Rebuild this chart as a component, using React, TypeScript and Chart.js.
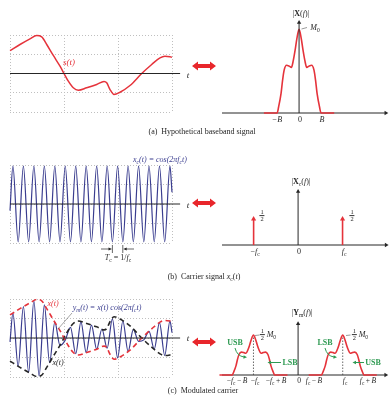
import React, { useEffect, useRef } from 'react';
import { Chart, registerables } from 'chart.js';

Chart.register(...registerables);

// ---------------- data ----------------
// (a) baseband signal s(t): time in grid columns (0..3), amplitude in half-box units
const baseTime = [0, 0.185, 0.37, 0.494, 0.587, 0.68, 0.802, 0.926, 1.0, 1.08, 1.172, 1.265, 1.42, 1.606, 1.741, 1.791, 1.852, 1.926, 2.037, 2.222, 2.439, 2.624, 2.778, 2.87, 2.963, 3.0];
const baseSignal = [0.592, 0.753, 0.901, 0.987, 0.953, 0.753, 0.468, 0.19, 0, -0.2, -0.371, -0.434, -0.372, -0.286, -0.208, -0.242, -0.416, -0.545, -0.486, -0.312, 0, 0.234, 0.408, 0.45, 0.434, 0.42];

// (b) carrier: instants of its extrema (plus the two box edges) and values there
const carrierTime = [0, 0.054, 0.151, 0.248, 0.345, 0.442, 0.539, 0.636, 0.733, 0.83, 0.926, 1.023, 1.12, 1.217, 1.314, 1.411, 1.508, 1.605, 1.702, 1.799, 1.896, 1.993, 2.09, 2.187, 2.284, 2.381, 2.478, 2.574, 2.671, 2.768, 2.865, 2.962, 3.0];
const carrierValue = [-0.17, 0.97, -0.97, 0.97, -0.97, 0.97, -0.97, 0.97, -0.97, 0.97, -0.97, 0.97, -0.97, 0.97, -0.97, 0.97, -0.97, 0.97, -0.97, 0.97, -0.97, 0.97, -0.97, 0.97, -0.97, 0.97, -0.97, 0.97, -0.97, 0.97, -0.97, 0.97, 0.3];

// (c) modulated carrier y_m(t): values at the same instants
const modulatedValue = [-0.1, 0.636, -0.722, 0.803, -0.881, 0.951, -0.971, 0.849, -0.631, 0.405, -0.19, -0.055, 0.275, -0.403, 0.416, -0.374, 0.33, -0.286, 0.231, -0.262, 0.491, -0.509, 0.436, -0.345, 0.223, -0.086, -0.047, 0.171, -0.286, 0.395, -0.447, 0.434, 0.14];

// (a) spectrum |X(f)|, frequency in units of B, magnitude in units of M0
const specFreq = [-1.6, -1.1, -1.0, -0.93, -0.82, -0.75, -0.68, -0.57, -0.45, -0.35, -0.26, -0.18, -0.1, 0, 0.1, 0.18, 0.26, 0.35, 0.45, 0.57, 0.68, 0.75, 0.82, 0.93, 1.0, 1.1, 1.6];
const specMag = [0, 0, 0, 0.075, 0.235, 0.393, 0.512, 0.571, 0.56, 0.544, 0.631, 0.75, 0.889, 1.0, 0.889, 0.75, 0.631, 0.544, 0.56, 0.571, 0.512, 0.393, 0.235, 0.075, 0, 0, 0];

// (b) carrier spectrum impulses (frequency in units of fc)
const impulseFreq = [-1, 1];
const impulseHeight = [0.5, 0.5];

// (c) carrier frequency expressed in units of B, and sideband scale
const carrierFreqInB = 2.1;
const sidebandScale = 0.5;

// ---------------- styling ----------------
const RED = '#e5333b';
const BLUE = '#3a3d8f';
const INK = '#262626';
const GREEN = '#2e9a52';
const GRID = '#bfbfbf';
const SERIF = '"Liberation Serif", "DejaVu Serif", serif';

const pts = (xs: number[], ys: number[]) => xs.map((x, i) => ({ x, y: ys[i] }));

function line(points: any[], color: string, width: number, extra: any = {}) {
  return {
    type: 'line',
    data: points,
    borderColor: color,
    backgroundColor: color,
    borderWidth: width,
    pointRadius: 0,
    fill: false,
    clip: false,
    ...extra,
  };
}

function arrow(points: any[], color: string, width: number, rotation: number, r = 2.5, extra: any = {}) {
  return line(points, color, width, {
    pointRadius: points.map((_: any, i: number) => (i === points.length - 1 ? r : 0)),
    pointStyle: 'triangle',
    pointRotation: rotation,
    pointBackgroundColor: color,
    pointBorderColor: color,
    pointBorderWidth: 0,
    ...extra,
  });
}

function makeConfig(datasets: any[], x: [number, number], y: [number, number], padding: any, grid: boolean) {
  const scale = (min: number, max: number, step: number) => ({
    type: 'linear',
    min,
    max,
    display: grid,
    ticks: { display: false, stepSize: step },
    grid: { color: GRID, lineWidth: 1, drawTicks: false },
    border: { display: false, dash: [1, 2] },
  });
  return {
    type: 'line',
    data: { datasets },
    options: {
      animation: false,
      responsive: false,
      maintainAspectRatio: false,
      events: [],
      layout: { padding },
      plugins: { legend: { display: false }, tooltip: { enabled: false } },
      scales: {
        x: scale(x[0], x[1], 1),
        y: scale(y[0], y[1], 0.5),
      },
    },
  } as any;
}

function ChartCanvas({ left, top, width, height, build }: any) {
  const ref = useRef<HTMLCanvasElement>(null);
  useEffect(() => {
    const chart = new Chart(ref.current as HTMLCanvasElement, build());
    return () => chart.destroy();
  }, []);
  return (
    <canvas
      ref={ref}
      width={width}
      height={height}
      style={{ position: 'absolute', left, top, width, height }}
    />
  );
}

// ---------------- chart builders ----------------
const timeAxis = () => arrow([{ x: 0, y: 0 }, { x: 3.15, y: 0 }], INK, 1, 90, 2.5, { order: 0 });

const buildA = () =>
  makeConfig(
    [timeAxis(), line(pts(baseTime, baseSignal), RED, 1.5, { cubicInterpolationMode: 'monotone', order: 1 })],
    [0, 3], [-1, 1], { left: 10, right: 24, top: 35, bottom: 18 }, true
  );

const buildB = () =>
  makeConfig(
    [timeAxis(), line(pts(carrierTime, carrierValue), BLUE, 1.2, { cubicInterpolationMode: 'monotone', order: 1 })],
    [0, 3], [-1, 1], { left: 10, right: 24, top: 35, bottom: 22 }, true
  );

const buildC = () =>
  makeConfig(
    [
      timeAxis(),
      line(pts(baseTime, baseSignal), RED, 1.6, { cubicInterpolationMode: 'monotone', borderDash: [5, 3.5], order: 1 }),
      line(pts(baseTime, baseSignal.map((v) => -v)), INK, 1.6, { cubicInterpolationMode: 'monotone', borderDash: [5, 3.5], order: 1 }),
      line(pts(carrierTime, modulatedValue), BLUE, 1.2, { cubicInterpolationMode: 'monotone', order: 2 }),
    ],
    [0, 3], [-1, 1], { left: 10, right: 24, top: 34, bottom: 27 }, true
  );

const buildSpecA = () =>
  makeConfig(
    [
      arrow([{ x: 0, y: 0 }, { x: 0, y: 1.08 }], INK, 1, 0, 2.5, { order: 0 }),
      line(pts(specFreq, specMag), RED, 1.6, { cubicInterpolationMode: 'monotone', order: 1 }),
      arrow([{ x: -3.51, y: 0 }, { x: 3.95, y: 0 }], INK, 1, 90, 2.5, { order: 2 }),
    ],
    [-3.51, 4.05], [0, 1.111], { left: 26, right: 2, top: 20, bottom: 17 }, false
  );

const buildSpecB = () =>
  makeConfig(
    [
      arrow([{ x: 0, y: 0 }, { x: 0, y: 1.03 }], INK, 1, 0, 2.5, { order: 0 }),
      ...impulseFreq.map((f, i) =>
        arrow([{ x: f, y: 0 }, { x: f, y: impulseHeight[i] }], RED, 1.6, 0, 3, { order: 1 })
      ),
      arrow([{ x: -1.711, y: 0 }, { x: 1.98, y: 0 }], INK, 1, 90, 2.5, { order: 2 }),
    ],
    [-1.711, 2.022], [0, 1.077], { left: 26, right: 2, top: 59, bottom: 20 }, false
  );

const buildSpecC = () =>
  makeConfig(
    [
      arrow([{ x: 0, y: 0 }, { x: 0, y: 0.64 }], INK, 1, 0, 2.5, { order: 0 }),
      ...[-carrierFreqInB, carrierFreqInB].map((fc) =>
        line(
          pts(specFreq.map((f) => f + fc), specMag.map((m) => m * sidebandScale)),
          RED, 1.6, { cubicInterpolationMode: 'monotone', order: 1 }
        )
      ),
      ...[-carrierFreqInB, carrierFreqInB].map((fc) =>
        line([{ x: fc, y: 0 }, { x: fc, y: sidebandScale }], '#444', 0.8, { borderDash: [1.5, 1.5], order: 2 })
      ),
      arrow([{ x: -3.58, y: 0 }, { x: 4.12, y: 0 }], INK, 1, 90, 2.5, { order: 3 }),
    ],
    [-3.58, 4.23], [0, 0.675], { left: 26, right: 2, top: 56, bottom: 29 }, false
  );

// ---------------- text helpers ----------------
function T({ x, y, size = 8, color = INK, italic = false, bold = false, children }: any) {
  return (
    <div
      style={{
        position: 'absolute',
        left: x,
        top: y,
        transform: 'translate(-50%, -50%)',
        whiteSpace: 'nowrap',
        fontFamily: SERIF,
        fontSize: size,
        lineHeight: 1,
        color,
        fontStyle: italic ? 'italic' : 'normal',
        fontWeight: bold ? 'bold' : 'normal',
      }}
    >
      {children}
    </div>
  );
}

const Sub = ({ children }: any) => (
  <span style={{ fontSize: '0.7em', verticalAlign: '-0.3em', lineHeight: 0 }}>{children}</span>
);
const I = ({ children }: any) => <span style={{ fontStyle: 'italic' }}>{children}</span>;
const Half = () => (
  <span
    style={{
      display: 'inline-flex',
      flexDirection: 'column',
      alignItems: 'center',
      fontSize: '0.8em',
      lineHeight: 1,
      verticalAlign: 'middle',
      fontStyle: 'normal',
    }}
  >
    <span>1</span>
    <span style={{ borderTop: '0.7px solid #333', padding: '0 1px' }}>2</span>
  </span>
);

function DoubleArrow({ y }: { y: number }) {
  return (
    <polygon
      points={`192,${y} 198,${y - 4.5} 198,${y - 2} 210,${y - 2} 210,${y - 4.5} 216,${y} 210,${y + 4.5} 210,${y + 2} 198,${y + 2} 198,${y + 4.5}`}
      fill="#e8262b"
    />
  );
}

function GreenArrow({ d, tip, angle }: { d: string; tip: [number, number]; angle: number }) {
  const [tx, ty] = tip;
  return (
    <g>
      <path d={d} stroke={GREEN} strokeWidth={1} fill="none" />
      <polygon
        points={`${tx},${ty} ${tx - 3.5},${ty - 1.8} ${tx - 3.5},${ty + 1.8}`}
        fill={GREEN}
        transform={`rotate(${angle} ${tx} ${ty})`}
      />
    </g>
  );
}

export default function App() {
  return (
    <div
      style={{
        position: 'absolute',
        left: 0,
        top: 0,
        width: 392,
        height: 404,
        background: '#ffffff',
        overflow: 'hidden',
      }}
    >
      <ChartCanvas left={0} top={0} width={196} height={130} build={buildA} />
      <ChartCanvas left={0} top={130} width={196} height={135} build={buildB} />
      <ChartCanvas left={0} top={265} width={196} height={139} build={buildC} />
      <ChartCanvas left={196} top={0} width={196} height={130} build={buildSpecA} />
      <ChartCanvas left={196} top={130} width={196} height={135} build={buildSpecB} />
      <ChartCanvas left={196} top={265} width={196} height={139} build={buildSpecC} />

      <svg width={392} height={404} style={{ position: 'absolute', left: 0, top: 0, pointerEvents: 'none' }}>
        <DoubleArrow y={66} />
        <DoubleArrow y={203} />
        <DoubleArrow y={342} />
        {/* M0 leader */}
        <line x1={301.5} y1={29} x2={307} y2={27.5} stroke="#555" strokeWidth={0.6} />
        {/* 1/2 M0 leaders */}
        <line x1={255} y1={335.5} x2={259.5} y2={335} stroke="#555" strokeWidth={0.6} />
        <line x1={346} y1={335.5} x2={350.5} y2={335} stroke="#555" strokeWidth={0.6} />
        {/* Tc markers */}
        <line x1={112.4} y1={245} x2={112.4} y2={253} stroke={INK} strokeWidth={0.7} />
        <line x1={122.8} y1={245} x2={122.8} y2={253} stroke={INK} strokeWidth={0.7} />
        <line x1={101} y1={249} x2={110} y2={249} stroke={INK} strokeWidth={0.7} />
        <polygon points="112,249 108.5,247.6 108.5,250.4" fill={INK} />
        <line x1={134} y1={249} x2={125} y2={249} stroke={INK} strokeWidth={0.7} />
        <polygon points="123.2,249 126.7,247.6 126.7,250.4" fill={INK} />
        {/* y_m leader */}
        <line x1={72} y1={313} x2={58} y2={329} stroke="#666" strokeWidth={0.6} />
        {/* green sideband arrows */}
        <GreenArrow d="M235,348 Q237,356 244,357" tip={[247, 357.3]} angle={5} />
        <GreenArrow d="M281,362.5 L270,362.5" tip={[267.5, 362.5]} angle={180} />
        <GreenArrow d="M325,348 Q327,356 334,357" tip={[337, 357.3]} angle={5} />
        <GreenArrow d="M364,362.5 L355,362.5" tip={[352.5, 362.5]} angle={180} />
      </svg>

      {/* captions */}
      <T x={202} y={132} size={8}>(a)&nbsp; Hypothetical baseband signal</T>
      <T x={204} y={277} size={8}>(b)&nbsp; Carrier signal <I>x</I><Sub>c</Sub>(<I>t</I>)</T>
      <T x={203} y={391} size={8}>(c)&nbsp; Modulated carrier</T>

      {/* panel a */}
      <T x={69} y={62} size={9} color={RED} italic>s(t)</T>
      <T x={188} y={75} size={9} italic>t</T>
      <T x={301} y={14} size={8}>|<b>X</b>(<I>f</I>)|</T>
      <T x={315} y={28} size={8}><I>M</I><Sub>0</Sub></T>
      <T x={277} y={120} size={8} italic>−B</T>
      <T x={300} y={120} size={8}>0</T>
      <T x={322} y={120} size={8} italic>B</T>

      {/* panel b */}
      <T x={160} y={160} size={8} color={BLUE} italic>x<Sub>c</Sub>(t) = cos(2πf<Sub>c</Sub>t)</T>
      <T x={118} y={258} size={8}><I>T</I><Sub>c</Sub> = 1/<I>f</I><Sub>c</Sub></T>
      <T x={188} y={205} size={9} italic>t</T>
      <T x={301} y={182} size={8}>|<b>X</b><Sub>c</Sub>(<I>f</I>)|</T>
      <T x={262} y={216} size={8}><Half /></T>
      <T x={352} y={216} size={8}><Half /></T>
      <T x={255} y={252} size={8}>−<I>f</I><Sub>c</Sub></T>
      <T x={299} y={252} size={8}>0</T>
      <T x={344} y={252} size={8}><I>f</I><Sub>c</Sub></T>

      {/* panel c */}
      <T x={53} y={304} size={8} color={RED} italic>x(t)</T>
      <T x={58} y={363} size={8} italic>x(t)</T>
      <T x={107} y={308} size={8} color={BLUE} italic>y<Sub>m</Sub>(t) = x(t) cos(2πf<Sub>c</Sub>t)</T>
      <T x={188} y={338} size={9} italic>t</T>
      <T x={302} y={313} size={8}>|<b>Y</b><Sub>m</Sub>(<I>f</I>)|</T>
      <T x={268} y={335} size={8}><Half />&thinsp;<I>M</I><Sub>0</Sub></T>
      <T x={360} y={335} size={8}><Half />&thinsp;<I>M</I><Sub>0</Sub></T>
      <T x={235} y={343} size={8} color={GREEN} bold>USB</T>
      <T x={290} y={363} size={8} color={GREEN} bold>LSB</T>
      <T x={325} y={343} size={8} color={GREEN} bold>LSB</T>
      <T x={373} y={363} size={8} color={GREEN} bold>USB</T>
      <T x={237} y={381} size={7.5}>−<I>f</I><Sub>c</Sub>&thinsp;−&thinsp;<I>B</I></T>
      <T x={255} y={381} size={7.5}>−<I>f</I><Sub>c</Sub></T>
      <T x={276} y={381} size={7.5}>−<I>f</I><Sub>c</Sub>&thinsp;+&thinsp;<I>B</I></T>
      <T x={299} y={381} size={7.5}>0</T>
      <T x={314} y={381} size={7.5}><I>f</I><Sub>c</Sub>&thinsp;−&thinsp;<I>B</I></T>
      <T x={345} y={381} size={7.5}><I>f</I><Sub>c</Sub></T>
      <T x={368} y={381} size={7.5}><I>f</I><Sub>c</Sub>&thinsp;+&thinsp;<I>B</I></T>
    </div>
  );
}
